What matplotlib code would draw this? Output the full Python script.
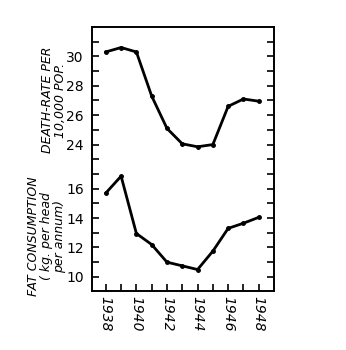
import numpy as np
import matplotlib
matplotlib.use("Agg")
import matplotlib.pyplot as plt

# ---------------------------------------------------------------------------
#  Data
# ---------------------------------------------------------------------------
years = [1938, 1939, 1940, 1941, 1942, 1943, 1944, 1945, 1946, 1947, 1948]
death_rate = [30.3, 30.6, 30.3, 27.3, 25.1, 24.05, 23.85, 24.0, 26.6, 27.1, 26.95]
fat_consumption = [15.7, 16.85, 12.95, 12.2, 11.0, 10.75, 10.5, 11.75, 13.3, 13.65, 14.05]

death_ticks = [24, 26, 28, 30]
fat_ticks = [10, 12, 14, 16]
year_ticks = [1938, 1940, 1942, 1944, 1946, 1948]

# the upper curve shares the axis with the lower one, shifted down
DEATH_OFFSET = 5

fig = plt.figure(figsize=(3.46, 3.5), dpi=100)
ax = fig.add_axes([0.266, 0.169, 0.526, 0.754])

ax.plot(years, np.array(death_rate) - DEATH_OFFSET, "k-", lw=2.0,
        marker="o", ms=2.5)
ax.plot(years, fat_consumption, "k-", lw=2.0, marker="o", ms=2.5)

ax.set_xlim(1937.1, 1949.0)
ax.set_ylim(9.05, 27.0)

yt = [v - DEATH_OFFSET for v in death_ticks] + fat_ticks
yl = [str(v) for v in death_ticks] + [str(v) for v in fat_ticks]
ax.set_yticks(yt)
ax.set_yticklabels(yl, fontsize=10)
ax.set_yticks(np.arange(10, 27), minor=True)
ax.tick_params(axis="y", which="both", direction="in", length=5, width=1.2,
               left=True, right=True, pad=6)

ax.set_xticks(year_ticks)
ax.set_xticklabels([str(y) for y in year_ticks], rotation=-90,
                   fontsize=10, fontstyle="italic")
ax.set_xticks(years, minor=True)
ax.tick_params(axis="x", which="both", direction="in", length=5, width=1.2,
               top=False, pad=4)

for s in ax.spines.values():
    s.set_linewidth(1.4)

fig.text(0.155, 0.714, "DEATH-RATE PER\n10,000 POP.", rotation=90,
         ha="center", va="center", fontsize=9, fontstyle="italic",
         linespacing=1.0)
fig.text(0.135, 0.325, "FAT CONSUMPTION\n( kg. per head\nper annum)",
         rotation=90, ha="center", va="center", fontsize=9,
         fontstyle="italic", linespacing=1.0)

fig.savefig("out.png", dpi=100, facecolor="white")
